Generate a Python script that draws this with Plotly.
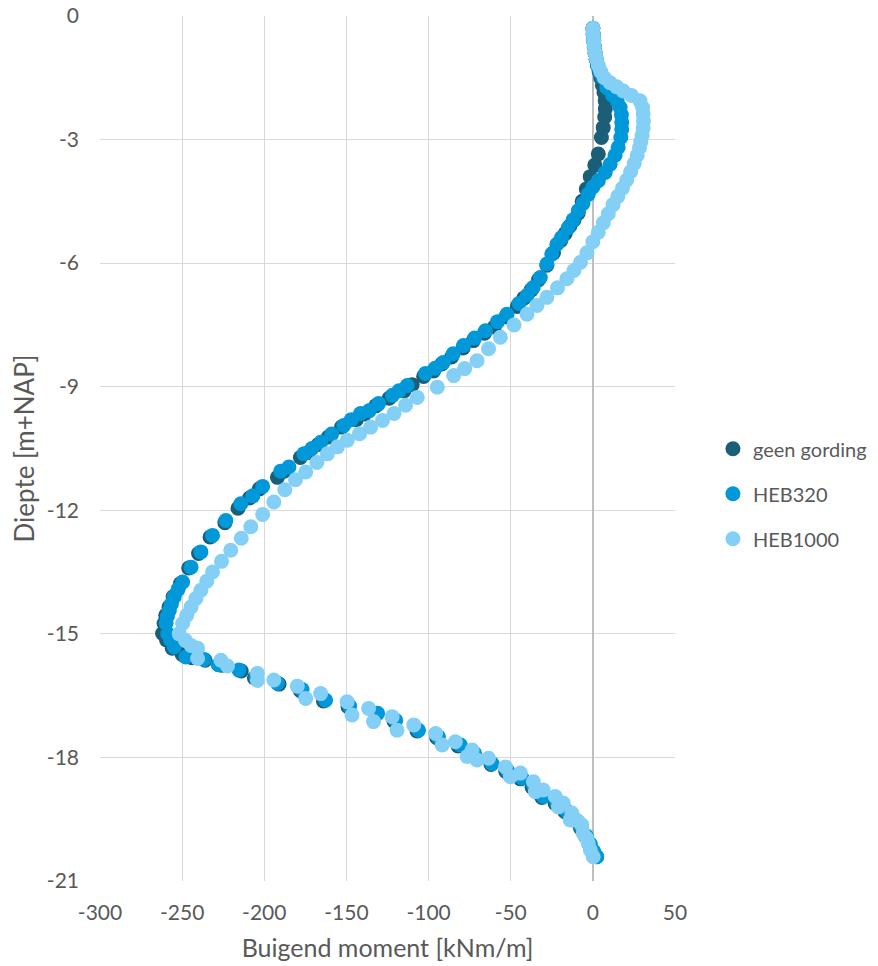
import plotly.graph_objects as go

# ---- data ----
geen_x = [0.0, 0.2, 0.5, 0.9, 1.3, 2.0, 2.8, 3.8, 4.8, 5.8, 6.8, 7.5, 7.6, 7.2, 6.3, 5.2, 3.3, 1.2, -1.6, -4.0,
          -6.5, -8.9, -11.5, -14.0, -16.8, -19.5, -24.0, -28.0, -33.0, -37.5, -42.0, -46.0, -53.0, -60.0, -66.0,
          -72.7, -79.0, -86.0, -92.0, -97.0, -103.0, -110.0, -115.0, -124.0, -132.0, -139.0, -144.0, -153.0,
          -161.0, -167.0, -173.0, -178.0, -188.0, -192.0, -203.0, -209.0, -216.0, -224.0, -233.0, -240.0,
          -246.0, -251.0, -255.5, -258.0, -260.0, -261.0, -261.9, -259.5, -256.0, -250.0, -244.0,
          -236.0, -226.0, -214.0, -206.0, -191.0, -178.0, -164.0, -149.0, -132.0, -121.0, -107.0, -95.0,
          -82.0, -73.0, -62.0, -53.0, -44.0, -37.0, -31.0, -23.0, -17.0, -11.5, -7.5, -4.5, -2.0, 0.3, 2.2]
geen_y = [-0.30, -0.45, -0.60, -0.75, -0.90, -1.05, -1.20, -1.35, -1.50, -1.68, -1.86, -2.06, -2.25, -2.45,
          -2.71, -2.95, -3.35, -3.62, -3.90, -4.20, -4.50, -4.78, -4.95, -5.10, -5.28, -5.45, -5.75, -6.05,
          -6.40, -6.65, -6.85, -7.05, -7.30, -7.55, -7.70, -7.88, -8.06, -8.28, -8.45, -8.62, -8.75, -8.95,
          -9.10, -9.28, -9.46, -9.66, -9.80, -9.98, -10.22, -10.40, -10.60, -10.72, -11.05, -11.20, -11.48,
          -11.70, -11.95, -12.30, -12.65, -13.05, -13.40, -13.78, -14.10, -14.35, -14.55, -14.75, -14.99,
          -15.15, -15.35, -15.50, -15.58, -15.64, -15.76, -15.90, -16.07, -16.22, -16.38, -16.63, -16.77,
          -16.95, -17.12, -17.36, -17.52, -17.72, -17.92, -18.17, -18.34, -18.52, -18.72, -18.97, -19.12,
          -19.32, -19.52, -19.72, -19.92, -20.12, -20.30, -20.41]

heb320_x = [0.0, 0.2, 0.5, 0.9, 1.4, 2.1, 3.0, 4.2, 6.0, 8.5, 12.0, 14.8, 16.6, 17.4, 17.6, 17.6, 17.0, 15.4,
            13.5, 10.5, 7.5, 3.3, 0.0, -2.8, -6.0, -8.9, -12.0, -15.0, -19.0, -21.9, -25.0, -28.0, -32.0,
            -36.3, -40.0, -45.0, -52.3, -58.0, -65.4, -72.0, -78.7, -85.0, -91.0, -96.0, -101.9, -113.0,
            -118.0, -122.0, -130.4, -136.0, -141.4, -147.0, -151.6, -159.0, -165.6, -171.0, -175.9, -185.0,
            -190.0, -201.0, -207.0, -214.3, -223.4, -231.5, -238.6, -244.6, -249.7, -252.5, -254.8, -256.5,
            -257.8, -259.0, -259.8, -258.8, -257.0, -254.8, -247.7,
            -236.7, -228.0, -215.4, -205.0, -192.0, -177.0, -162.7, -148.0, -131.0, -120.0, -106.1, -94.0,
            -80.6, -72.0, -61.4, -52.0, -43.1, -36.0, -30.2, -22.0, -16.0, -11.0, -7.0, -4.0, -1.5, 0.5, 2.4]
heb320_y = [-0.30, -0.45, -0.60, -0.75, -0.90, -1.05, -1.20, -1.35, -1.50, -1.74, -1.92, -2.06, -2.22, -2.40,
            -2.58, -2.75, -2.95, -3.19, -3.38, -3.60, -3.80, -4.00, -4.15, -4.33, -4.55, -4.73, -4.95, -5.14,
            -5.38, -5.54, -5.78, -6.02, -6.35, -6.59, -6.78, -6.98, -7.24, -7.42, -7.64, -7.82, -8.00, -8.20,
            -8.41, -8.55, -8.68, -8.97, -9.10, -9.21, -9.41, -9.58, -9.65, -9.80, -9.94, -10.15, -10.35,
            -10.50, -10.63, -10.95, -11.05, -11.42, -11.65, -11.84, -12.25, -12.61, -13.01, -13.38, -13.74,
            -13.92, -14.10, -14.27, -14.43, -14.58, -14.74, -15.00, -15.15, -15.32, -15.56,
            -15.62, -15.75, -15.88, -16.05, -16.20, -16.35, -16.61, -16.75, -16.93, -17.10, -17.34, -17.50,
            -17.70, -17.90, -18.15, -18.32, -18.50, -18.70, -18.95, -19.10, -19.30, -19.50, -19.70, -19.90,
            -20.10, -20.28, -20.41]

heb1000_x = [0.0, 0.2, 0.5, 0.9, 1.4, 2.2, 3.3, 4.8, 7.0, 10.5, 14.5, 18.5, 23.5, 28.7, 30.3, 30.6, 30.8,
             30.6, 30.0, 29.2, 28.4, 27.0, 25.2, 23.0, 20.6, 18.0, 15.2, 12.3, 9.4, 6.4, 3.3, 0.0, -3.6, -7.5,
             -11.5, -15.8, -21.5, -28.0, -34.0, -40.1, -48.0, -56.3, -63.5, -70.5, -78.0, -84.7, -94.7,
             -106.9, -114.0, -121.0, -128.0, -135.3, -142.0, -149.5, -155.5, -161.6, -168.0, -174.8, -181.0,
             -187.5, -194.2, -201.0, -208.2, -214.0, -220.4, -226.0, -231.5, -235.0, -238.6, -241.6, -244.6,
             -247.2, -249.7, -251.8, -248.0, -244.6, -240.6, -240.6,
             -226.4, -222.4, -204.2, -204.2, -194.2, -179.9, -174.8, -165.7, -149.6, -146.6, -136.5, -133.5,
             -122.2, -119.2, -109.0, -95.7, -91.7, -83.7, -76.5, -73.5, -70.5, -63.5, -53.2, -50.2, -44.1,
             -36.2, -35.0, -30.2, -22.9, -21.0, -18.0, -12.8, -13.8, -9.0, -6.7, -5.9, -4.0, -2.8, -1.5, 0.2]
heb1000_y = [-0.30, -0.45, -0.60, -0.75, -0.90, -1.05, -1.20, -1.35, -1.50, -1.62, -1.72, -1.82, -1.93,
             -2.06, -2.22, -2.38, -2.55, -2.72, -2.90, -3.05, -3.20, -3.38, -3.58, -3.78, -3.98, -4.18, -4.38,
             -4.58, -4.80, -5.02, -5.25, -5.48, -5.75, -5.98, -6.18, -6.38, -6.60, -6.83, -7.03, -7.24, -7.50,
             -7.80, -8.08, -8.37, -8.56, -8.73, -9.01, -9.26, -9.45, -9.65, -9.82, -9.98, -10.14, -10.30,
             -10.46, -10.63, -10.84, -11.07, -11.26, -11.50, -11.80, -12.10, -12.40, -12.68, -12.97, -13.24,
             -13.50, -13.72, -13.94, -14.14, -14.35, -14.55, -14.75, -15.00, -15.16, -15.28, -15.35, -15.60,
             -15.64, -15.78, -15.96, -16.13, -16.12, -16.27, -16.57, -16.45, -16.65, -16.97, -16.81, -17.13,
             -17.01, -17.34, -17.21, -17.42, -17.70, -17.62, -17.98, -17.82, -18.06, -18.02, -18.23, -18.47,
             -18.38, -18.59, -18.83, -18.79, -18.95, -19.20, -19.11, -19.35, -19.52, -19.55, -19.64, -19.84,
             -19.95, -20.08, -20.25, -20.41]

series_names = ["geen gording", "HEB320", "HEB1000"]
series_colors = ["#1B5E78", "#0098D8", "#84CFF5"]

x_tickvals = [-300, -250, -200, -150, -100, -50, 0, 50]
x_ticktext = ["-300", "-250", "-200", "-150", "-100", "-50", "0", "50"]
y_tickvals = [0, -3, -6, -9, -12, -15, -18, -21]
y_ticktext = ["0", "-3", "-6", "-9", "-12", "-15", "-18", "-21"]

FONT = "Lato, 'Open Sans', sans-serif"
GREY = "#595959"

fig = go.Figure()
for name, color, xs, ys in zip(series_names, series_colors,
                               [geen_x, heb320_x, heb1000_x], [geen_y, heb320_y, heb1000_y]):
    fig.add_trace(go.Scatter(x=xs, y=ys, mode="markers", name=name, legendgroup=name,
                             marker=dict(size=15, color=color, line=dict(width=0))))

# the page adds an 8px body margin, so the figure is offset by 8px right/down
fig.update_layout(
    width=878, height=966,
    margin=dict(l=92, r=211, t=8, b=93),
    paper_bgcolor="white", plot_bgcolor="white",
    font=dict(family=FONT, size=21, color=GREY),
    showlegend=True,
    legend=dict(x=1.066, xanchor="left", y=0.4477, yanchor="middle",
                font=dict(size=20, color=GREY), tracegroupgap=16,
                bgcolor="rgba(0,0,0,0)"),
    xaxis=dict(range=[-300, 50], tickvals=x_tickvals, ticktext=x_ticktext, automargin=False,
               showgrid=True, gridcolor="#d9d9d9", gridwidth=1.3,
               zeroline=True, zerolinecolor="#bfbfbf", zerolinewidth=2,
               showline=False, ticks="", ticklabelstandoff=17, ticklabeloverflow="allow",
               tickfont=dict(size=21, color=GREY),
               title=dict(text="Buigend moment [kNm/m]", font=dict(size=25, color=GREY), standoff=16)),
    yaxis=dict(range=[-21, 0], tickvals=y_tickvals, ticktext=y_ticktext, automargin=False,
               showgrid=True, gridcolor="#d9d9d9", gridwidth=1.3,
               zeroline=False, showline=False, ticks="", ticklabelstandoff=20, ticklabeloverflow="allow",
               tickfont=dict(size=21, color=GREY),
               title=dict(text="Diepte [m+NAP]", font=dict(size=26, color=GREY), standoff=9)),
)

fig.write_html("out.html")
